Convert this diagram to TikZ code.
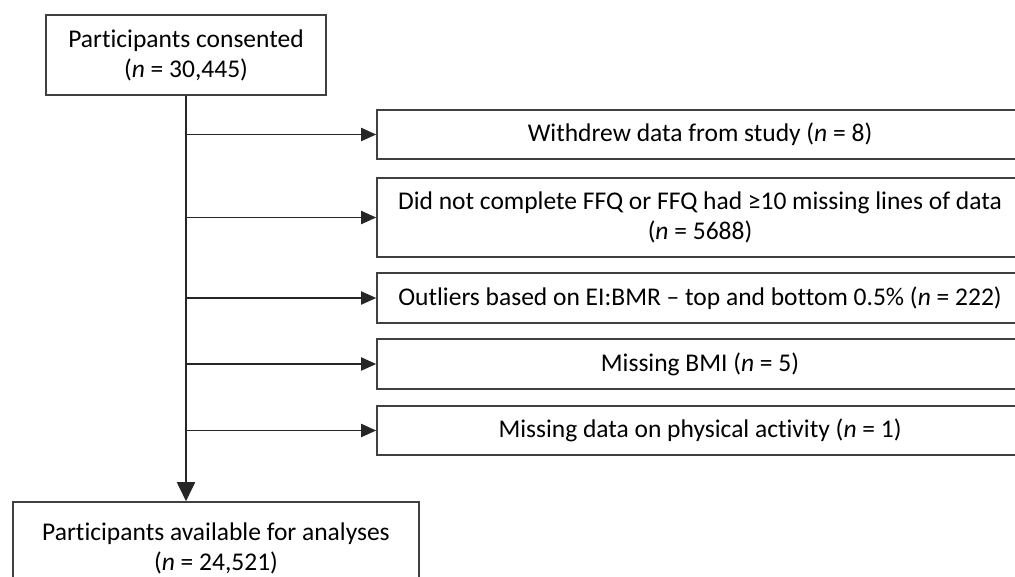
\documentclass[tikz,border=0pt]{standalone}
\usepackage{fontspec}
\setmainfont{Carlito}[Ligatures=NoCommon]
\usetikzlibrary{arrows.meta}
\tikzset{
  box/.style={draw=black!75, line width=1.6pt, rectangle, align=center,
    inner sep=0pt, font=\fontsize{25.5}{30}\selectfont},
  flow/.style={draw=black!85, line width=1.9pt,
    -{Triangle[length=15pt,width=13pt]}},
  mainflow/.style={draw=black!85, line width=1.9pt,
    -{Triangle[length=19pt,width=18pt]}}
}
\begin{document}
\begin{tikzpicture}[x=1pt,y=-1pt]
  \useasboundingbox (0,0) rectangle (1015,576);
  % start and end of the flow
  \node[box, minimum width=280pt, minimum height=80pt] (start) at (186,55)
    {Participants consented\\(\textit{n} = 30,445)};
  \node[box, minimum width=406pt, minimum height=92pt] (final) at (216,548)
    {Participants available for analyses\\(\textit{n} = 24,521)};
  % exclusions
  \node[box, minimum width=646pt, minimum height=49pt] (ex1) at (700,134.5)
    {Withdrew data from study (\textit{n} = 8)};
  \node[box, minimum width=646pt, minimum height=79pt] (ex2) at (700,217.5)
    {Did not complete FFQ or FFQ had ≥10 missing lines of data\\(\textit{n} = 5688)};
  \node[box, minimum width=646pt, minimum height=50pt] (ex3) at (700,298)
    {Outliers based on EI:BMR – top and bottom 0.5\% (\textit{n} = 222)};
  \node[box, minimum width=646pt, minimum height=50pt] (ex4) at (700,364)
    {Missing BMI (\textit{n} = 5)};
  \node[box, minimum width=646pt, minimum height=49pt] (ex5) at (700,430.5)
    {Missing data on physical activity (\textit{n} = 1)};
  % connectors
  \draw[mainflow] (start.south) -- (start.south |- final.north);
  \foreach \e in {ex1,ex2,ex3,ex4,ex5}
    \draw[flow] (start.south |- \e.west) -- (\e.west);
\end{tikzpicture}
\end{document}
